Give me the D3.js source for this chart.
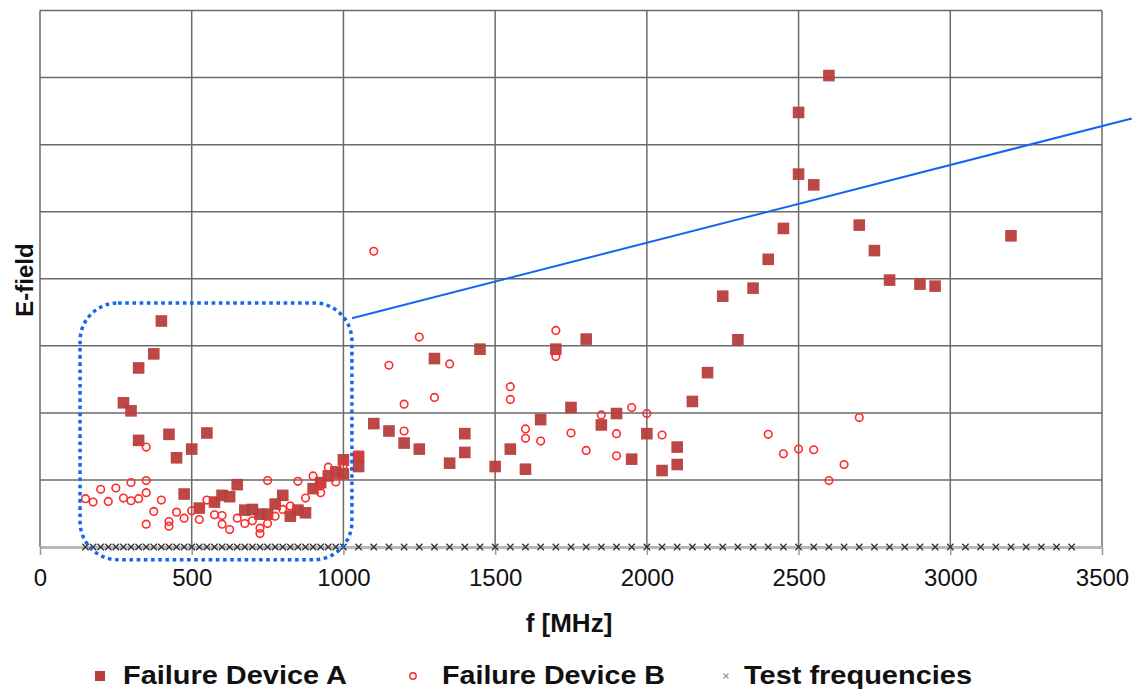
<!DOCTYPE html>
<style>
body { margin: 0; background: #fff; }
text { font-family: "Liberation Sans", Arial, sans-serif; }
</style>
<svg width="1132" height="690"></svg>
<script src="https://d3js.org/d3.v7.min.js"></script>
<script>

// Failure Device A (squares)
var aFreq  = [275, 300, 325, 325, 375, 400, 425, 450, 475, 500, 525, 550, 575, 600, 625, 650, 675, 700, 725, 750,
              775, 800, 825, 850, 875, 900, 925, 950, 975, 1000, 1000, 1050, 1050, 1100, 1150, 1200, 1250, 1300, 1350, 1400,
              1400, 1450, 1500, 1550, 1600, 1650, 1700, 1750, 1800, 1850, 1900, 1950, 2000, 2050, 2100, 2100, 2150, 2200, 2250, 2300,
              2350, 2400, 2450, 2500, 2500, 2550, 2600, 2700, 2750, 2800, 2900, 2950, 3200];
var aField = [2.15, 2.03, 2.67, 1.59, 2.88, 3.37, 1.68, 1.33, 0.79, 1.46, 0.58, 1.70, 0.67, 0.77, 0.75, 0.93, 0.55, 0.56, 0.49, 0.49,
              0.64, 0.77, 0.46, 0.55, 0.51, 0.87, 0.96, 1.06, 1.12, 1.30, 1.09, 1.35, 1.20, 1.84, 1.73, 1.55, 1.46, 2.81, 1.25, 1.69,
              1.41, 2.95, 1.20, 1.46, 1.16, 1.90, 2.95, 2.08, 3.10, 1.82, 1.99, 1.31, 1.69, 1.14, 1.49, 1.23, 2.17, 2.60, 3.74, 3.09,
              3.86, 4.29, 4.75, 6.48, 5.56, 5.40, 7.03, 4.80, 4.42, 3.98, 3.92, 3.89, 4.64];

// Failure Device B (circles)
var bFreq  = [150, 175, 200, 225, 250, 275, 300, 300, 325, 350, 350, 350, 350, 375, 400, 425, 425, 450, 475, 500,
              525, 550, 575, 600, 600, 625, 650, 675, 700, 725, 725, 750, 750, 775, 800, 825, 850, 875, 900, 925,
              925, 950, 975, 1000, 1050, 1100, 1150, 1200, 1200, 1250, 1300, 1350, 1550, 1550, 1600, 1600, 1650, 1700, 1700, 1750,
              1800, 1850, 1900, 1900, 1950, 2000, 2050, 2400, 2450, 2500, 2550, 2600, 2650, 2700];
var bField = [0.72, 0.67, 0.86, 0.68, 0.88, 0.73, 0.96, 0.69, 0.72, 1.49, 0.99, 0.81, 0.34, 0.53, 0.70, 0.38, 0.31, 0.52, 0.43, 0.54,
              0.41, 0.70, 0.48, 0.47, 0.34, 0.26, 0.43, 0.35, 0.39, 0.28, 0.20, 0.99, 0.35, 0.46, 0.56, 0.61, 0.98, 0.73, 1.06, 0.91,
              0.81, 1.19, 0.97, 1.22, 1.37, 4.41, 2.71, 2.13, 1.73, 3.13, 2.23, 2.73, 2.39, 2.20, 1.76, 1.62, 1.58, 3.23, 2.84, 1.70,
              1.44, 1.97, 1.69, 1.36, 2.08, 1.99, 1.67, 1.68, 1.39, 1.46, 1.45, 0.99, 1.23, 1.93];

// Test frequencies (all at zero)
var tFreq = [150, 175, 200, 225, 250, 275, 300, 325, 350, 375, 400, 425, 450, 475, 500, 525, 550, 575, 600, 625,
             650, 675, 700, 725, 750, 775, 800, 825, 850, 875, 900, 925, 950, 975, 1000,
             1050, 1100, 1150, 1200, 1250, 1300, 1350, 1400, 1450, 1500, 1550, 1600, 1650, 1700, 1750, 1800, 1850, 1900, 1950,
             2000, 2050, 2100, 2150, 2200, 2250, 2300, 2350, 2400, 2450, 2500, 2550, 2600, 2650, 2700, 2750, 2800, 2850, 2900,
             2950, 3000, 3050, 3100, 3150, 3200, 3250, 3300, 3350, 3400];

var xTicks = [0, 500, 1000, 1500, 2000, 2500, 3000, 3500];
var yGrid = [1, 2, 3, 4, 5, 6, 7, 8];

// zoom box and pointer line (data units)
var boxF = [132, 1028], boxE = [-0.19, 3.64];
var pointer = [[1028, 3.41], [3598, 6.39]];

var svg = d3.select("svg");

var x = d3.scaleLinear().domain([0, 3500]).range([40, 1102]);
var y = d3.scaleLinear().domain([0, 8]).range([547, 10.5]);

var red = "#b83e3c", blue = "#1466f2";

// grid
svg.append("g")
    .selectAll("line")
    .data(yGrid)
    .enter().append("line")
      .attr("x1", x(0)).attr("x2", x(3500))
      .attr("y1", y).attr("y2", y)
      .attr("stroke", "#6a6a6a")
      .attr("stroke-width", 1.5);

svg.append("g")
    .selectAll("line")
    .data(xTicks)
    .enter().append("line")
      .attr("x1", x).attr("x2", x)
      .attr("y1", y(8)).attr("y2", y(0))
      .attr("stroke", "#6a6a6a")
      .attr("stroke-width", 1.5);

// x axis
var xAxis = svg.append("g")
    .attr("transform", "translate(0," + y(0) + ")")
    .call(d3.axisBottom(x).tickValues(xTicks).tickFormat(d3.format("d"))
      .tickSize(8).tickPadding(14).tickSizeOuter(0));
xAxis.select(".domain").attr("stroke", "#b8b8b8").attr("stroke-width", 3);
xAxis.selectAll(".tick line").attr("stroke", "#999").attr("stroke-width", 1.5);
xAxis.selectAll("text")
    .attr("font-size", 24)
    .attr("fill", "#111")
    .style("font-family", "'Liberation Sans', Arial, sans-serif");

// Device A squares
svg.append("g")
  .selectAll("rect")
  .data(aFreq)
  .enter().append("rect")
    .attr("x", function(d) { return x(d) - 5.8; })
    .attr("y", function(d, i) { return y(aField[i]) - 5.8; })
    .attr("width", 11.6)
    .attr("height", 11.6)
    .attr("fill", red)
    .attr("fill-opacity", 0.95);

// Device B circles
svg.append("g")
  .selectAll("circle")
  .data(bFreq)
  .enter().append("circle")
    .attr("cx", function(d) { return x(d); })
    .attr("cy", function(d, i) { return y(bField[i]); })
    .attr("r", 3.8)
    .attr("fill", "none")
    .attr("stroke", "#ff2a2a")
    .attr("stroke-width", 1.6);

// test frequency crosses
var cross = d3.symbol().type(d3.symbolX).size(28);
svg.append("g")
  .selectAll("path")
  .data(tFreq)
  .enter().append("path")
    .attr("d", cross)
    .attr("transform", function(d) { return "translate(" + x(d) + "," + y(0) + ")"; })
    .attr("stroke", "#333")
    .attr("stroke-width", 1.3)
    .attr("fill", "none");

// zoom box
svg.append("rect")
    .attr("x", x(boxF[0]))
    .attr("y", y(boxE[1]))
    .attr("width", x(boxF[1]) - x(boxF[0]))
    .attr("height", y(boxE[0]) - y(boxE[1]))
    .attr("rx", 38).attr("ry", 38)
    .attr("fill", "none")
    .attr("stroke", blue)
    .attr("stroke-width", 3.5)
    .attr("stroke-dasharray", "3.6 3.6");

svg.append("line")
    .attr("x1", x(pointer[0][0])).attr("y1", y(pointer[0][1]))
    .attr("x2", x(pointer[1][0])).attr("y2", y(pointer[1][1]))
    .attr("stroke", blue)
    .attr("stroke-width", 2);

// axis titles
svg.append("text")
    .attr("x", 569).attr("y", 632)
    .attr("text-anchor", "middle")
    .attr("font-size", 26)
    .attr("font-weight", "bold")
    .attr("fill", "#111")
    .text("f [MHz]");

svg.append("text")
    .attr("transform", "translate(33,280) rotate(-90)")
    .attr("text-anchor", "middle")
    .attr("font-size", 24)
    .attr("font-weight", "bold")
    .attr("fill", "#111")
    .text("E-field");

// legend
var legendY = 676;
var legend = svg.append("g").attr("font-size", 25).attr("font-weight", "bold").attr("fill", "#111");

legend.append("rect")
    .attr("x", 95).attr("y", legendY - 5).attr("width", 10).attr("height", 10)
    .attr("fill", red);
legend.append("text").attr("x", 123).attr("y", legendY + 8)
    .attr("textLength", 224).attr("lengthAdjust", "spacingAndGlyphs")
    .text("Failure Device A");

legend.append("circle")
    .attr("cx", 413).attr("cy", legendY).attr("r", 3.2)
    .attr("fill", "none").attr("stroke", "#ff2a2a").attr("stroke-width", 1.4);
legend.append("text").attr("x", 442).attr("y", legendY + 8)
    .attr("textLength", 223).attr("lengthAdjust", "spacingAndGlyphs")
    .text("Failure Device B");

legend.append("path")
    .attr("d", d3.symbol().type(d3.symbolX).size(18))
    .attr("transform", "translate(726," + legendY + ")")
    .attr("stroke", "#999").attr("stroke-width", 1.2).attr("fill", "none");
legend.append("text").attr("x", 744).attr("y", legendY + 8)
    .attr("textLength", 228).attr("lengthAdjust", "spacingAndGlyphs")
    .text("Test frequencies");

</script>
